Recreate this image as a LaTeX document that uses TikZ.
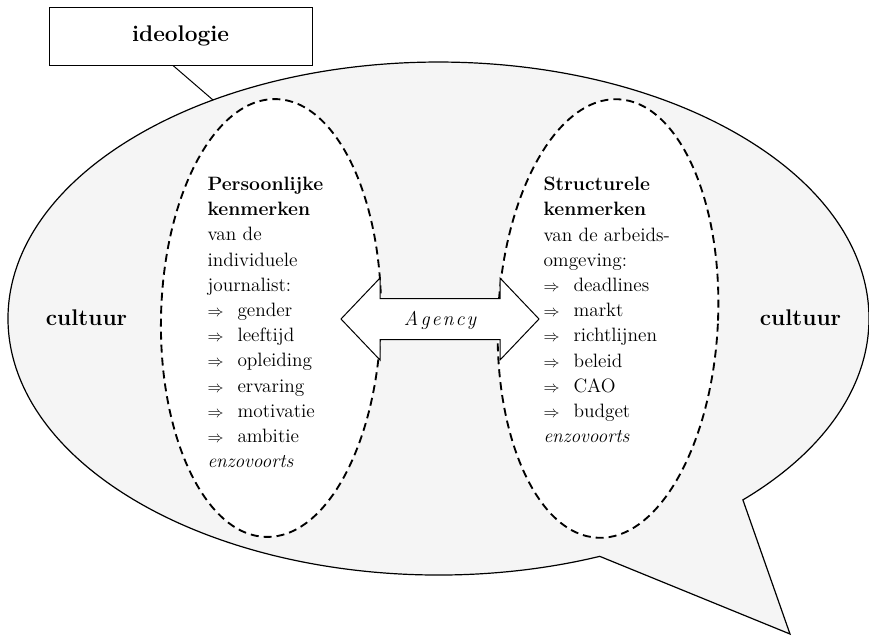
\documentclass[tikz,border=0pt]{standalone}
\usepackage{fontspec}

\tikzset{every picture/.style={line width=0.75pt}}
\tikzset{
  kenmerk/.style={anchor=north west, inner sep=0pt, align=left, font=\fontsize{14.5}{18.9}\selectfont},
  kop/.style={inner sep=0.75pt, font=\fontsize{17}{20}\selectfont\bfseries},
  stippel/.style={dash pattern=on 6pt off 3.75pt, line width=1.4pt, fill=white}
}
\newcommand{\pijl}[1]{\makebox[22.5pt][l]{\fontsize{12}{12}\selectfont$\Rightarrow$}#1}

\begin{document}
\begin{tikzpicture}[x=0.75pt,y=0.75pt,yscale=-1,xscale=1]
	\useasboundingbox (0,0) rectangle (869,636);
	
	%Shape: Speech bubble
	\draw [line width=0.9pt, fill=black!4] (742.9,499.9) arc [start angle=45, end angle=-292, x radius=430.5, y radius=256.5] -- (790,634) -- cycle ;
	%Shape: Ellipse (left, dashed)
	\draw [stippel, rotate around={1.3:(271,318)}] (271,318) ellipse (110 and 219) ;
	%Shape: Ellipse (right, dashed)
	\draw [stippel, rotate around={2.7:(608,318.5)}] (608,318.5) ellipse (110 and 219.5) ;
	%Shape: Double arrow
	\draw [fill=white] (341,319) -- (380,278) -- (380,298.5) -- (500,298.5) -- (500,278) -- (539,319) -- (500,360) -- (500,339.5) -- (380,339.5) -- (380,360) -- cycle ;
	
	% Text Node
	\node [kop, draw, fill=white, minimum width=197.25pt, minimum height=43.5pt] (ideologie) at (180.5,36) {ideologie};
	\coordinate (rand) at (213,100);
	%Straight Lines
	\draw ([xshift=-5.6pt]ideologie.south) -- (rand) ;
	
	% Text Node
	\node [kop, anchor=base] (cultuurL) at (86.5,325) {cultuur};
	% Text Node
	\node [kop, anchor=base] (cultuurR) at (800.5,325) {cultuur};
	% Text Node
	\node [anchor=base, inner sep=0.75pt, font=\fontsize{15}{16}\selectfont\itshape] (agency) at (440,325) {A\kern1.5pt g\kern1.5pt e\kern1.5pt n\kern1.5pt c\kern1.5pt y};
	
	% Text Node
	\node [kenmerk] (persoonlijk) at (207,176.6) {\textbf{Persoonlijke}\\ \textbf{kenmerken}\\ van de\\ individuele\\ journalist:\\ \pijl{gender}\\ \pijl{leeftijd}\\ \pijl{opleiding}\\ \pijl{ervaring}\\ \pijl{motivatie}\\ \pijl{ambitie}\\ \textit{enzovoorts}};
	% Text Node
	\node [kenmerk] (structureel) at (543,176.6) {\textbf{Structurele}\\ \textbf{kenmerken}\\ van de arbeids-\\ omgeving:\\ \pijl{deadlines}\\ \pijl{markt}\\ \pijl{richtlijnen}\\ \pijl{beleid}\\ \pijl{CAO}\\ \pijl{budget}\\ \textit{enzovoorts}};
	
\end{tikzpicture}
\end{document}
